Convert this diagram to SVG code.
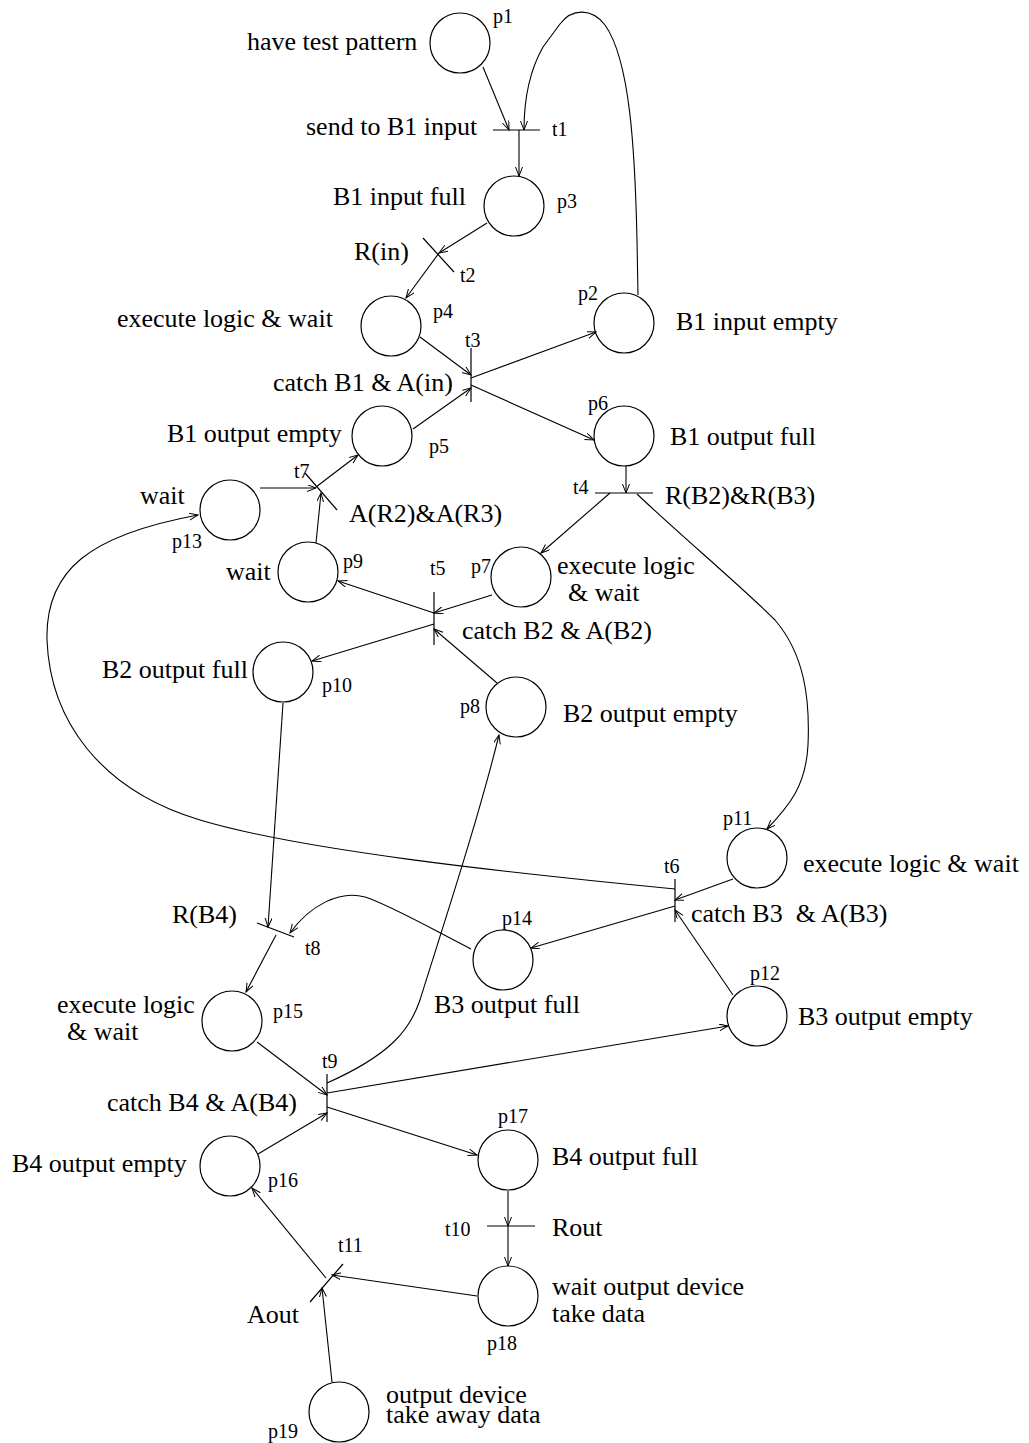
<svg xmlns="http://www.w3.org/2000/svg" width="1029" height="1443" viewBox="0 0 1029 1443">
<defs>
<style>
.pl{fill:none;stroke:#000;stroke-width:1.2}
.tr{fill:none;stroke:#000;stroke-width:1.2}
.e{fill:none;stroke:#000;stroke-width:1.1;marker-end:url(#ah)}
.L{font-family:"Liberation Serif","Times New Roman",serif;font-size:26px;fill:#000;white-space:pre}
.s{font-family:"Liberation Serif","Times New Roman",serif;font-size:20px;fill:#000}
</style>
<marker id="ah" markerUnits="userSpaceOnUse" markerWidth="12" markerHeight="10" refX="9" refY="3.5" orient="auto">
<path d="M0,0 L9,3.5 L0,7" fill="none" stroke="#000" stroke-width="1"/>
</marker>
</defs>
<rect width="1029" height="1443" fill="#fff"/>

<g id="connectors">
<line class="e" x1="483" y1="67" x2="509" y2="130"/>
<path class="e" d="M638 295 L637 240 C635 150 630 60 605 25 C592 8 572 8 560 24 L543 47 C530 70 524 100 524 130"/>
<line class="e" x1="519" y1="130" x2="519" y2="176"/>
<line class="e" x1="487" y1="223" x2="439" y2="253"/>
<line class="e" x1="439" y1="253" x2="406" y2="298"/>
<line class="e" x1="420" y1="337" x2="471" y2="375"/>
<line class="e" x1="471" y1="378" x2="596" y2="332"/>
<line class="e" x1="471" y1="385" x2="594" y2="440"/>
<line class="e" x1="413" y1="429" x2="471" y2="388"/>
<line class="e" x1="626" y1="466" x2="626" y2="493"/>
<line class="e" x1="610" y1="493" x2="541" y2="553"/>
<path class="e" d="M637 494 C680 535 740 585 775 620 C805 655 810 700 808 745 C806 785 790 805 767 829"/>
<line class="e" x1="492" y1="595" x2="434" y2="613"/>
<line class="e" x1="434" y1="613" x2="338" y2="581"/>
<line class="e" x1="434" y1="624" x2="312" y2="661"/>
<line class="e" x1="497" y1="683" x2="434" y2="629"/>
<line class="e" x1="260" y1="488" x2="316" y2="488"/>
<line class="e" x1="316" y1="543" x2="321" y2="493"/>
<line class="e" x1="316" y1="487" x2="358" y2="455"/>
<path class="e" d="M675 889 C500 872 300 850 200 820 C100 790 50 720 47 640 C45 570 90 535 198 515"/>
<line class="e" x1="283" y1="703" x2="268" y2="927"/>
<path class="e" d="M471 949 C430 928 390 905 365 897 C340 890 310 905 290 933"/>
<line class="e" x1="276" y1="935" x2="246" y2="992"/>
<line class="e" x1="733" y1="879" x2="675" y2="900"/>
<line class="e" x1="675" y1="906" x2="531" y2="948"/>
<line class="e" x1="733" y1="995" x2="675" y2="910"/>
<line class="e" x1="257" y1="1042" x2="327" y2="1095"/>
<path class="e" d="M327 1083 C390 1055 410 1030 420 1000 C445 920 478 820 499 735"/>
<line class="e" x1="327" y1="1093" x2="728" y2="1026"/>
<line class="e" x1="327" y1="1107" x2="477" y2="1155"/>
<line class="e" x1="258" y1="1154" x2="327" y2="1113"/>
<line class="e" x1="508" y1="1191" x2="508" y2="1226"/>
<line class="e" x1="508" y1="1226" x2="508" y2="1266"/>
<line class="e" x1="477" y1="1296" x2="332" y2="1275"/>
<line class="e" x1="326" y1="1278" x2="252" y2="1188"/>
<line class="e" x1="332" y1="1382" x2="322" y2="1288"/>
</g>

<g id="p1"><circle class="pl" cx="460" cy="43" r="30"/><text class="L" x="247" y="50">have test pattern</text><text class="s" x="493" y="23">p1</text></g>
<g id="p2"><circle class="pl" cx="624" cy="323" r="30"/><text class="s" x="578" y="300">p2</text><text class="L" x="676" y="330">B1 input empty</text></g>
<g id="p3"><circle class="pl" cx="514" cy="206" r="30"/><text class="L" x="333" y="205">B1 input full</text><text class="s" x="557" y="208">p3</text></g>
<g id="p4"><circle class="pl" cx="391" cy="326" r="30"/><text class="L" x="117" y="327">execute logic &amp; wait</text><text class="s" x="433" y="318">p4</text></g>
<g id="p5"><circle class="pl" cx="382" cy="436" r="30"/><text class="L" x="167" y="442">B1 output empty</text><text class="s" x="429" y="453">p5</text></g>
<g id="p6"><circle class="pl" cx="624" cy="436" r="30"/><text class="s" x="588" y="410">p6</text><text class="L" x="670" y="445">B1 output full</text></g>
<g id="p7"><circle class="pl" cx="521" cy="577" r="30"/><text class="s" x="471" y="573">p7</text><text class="L" x="557" y="574">execute logic</text><text class="L" x="568" y="601">&amp; wait</text></g>
<g id="p8"><circle class="pl" cx="516" cy="707" r="30"/><text class="s" x="460" y="713">p8</text><text class="L" x="563" y="722">B2 output empty</text></g>
<g id="p9"><circle class="pl" cx="308" cy="572" r="30"/><text class="L" x="226" y="580">wait</text><text class="s" x="343" y="568">p9</text></g>
<g id="p10"><circle class="pl" cx="283" cy="672" r="30"/><text class="L" x="102" y="678">B2 output full</text><text class="s" x="322" y="692">p10</text></g>
<g id="p11"><circle class="pl" cx="757" cy="858" r="30"/><text class="s" x="723" y="825">p11</text><text class="L" x="803" y="872">execute logic &amp; wait</text></g>
<g id="p12"><circle class="pl" cx="757" cy="1016" r="30"/><text class="s" x="750" y="980">p12</text><text class="L" x="798" y="1025">B3 output empty</text></g>
<g id="p13"><circle class="pl" cx="230" cy="510" r="30"/><text class="L" x="140" y="504">wait</text><text class="s" x="172" y="548">p13</text></g>
<g id="p14"><circle class="pl" cx="503" cy="960" r="30"/><text class="s" x="502" y="925">p14</text><text class="L" x="434" y="1013">B3 output full</text></g>
<g id="p15"><circle class="pl" cx="232" cy="1021" r="30"/><text class="L" x="57" y="1013">execute logic</text><text class="L" x="67" y="1040">&amp; wait</text><text class="s" x="273" y="1018">p15</text></g>
<g id="p16"><circle class="pl" cx="230" cy="1166" r="30"/><text class="L" x="12" y="1172">B4 output empty</text><text class="s" x="268" y="1187">p16</text></g>
<g id="p17"><circle class="pl" cx="508" cy="1160" r="30"/><text class="s" x="498" y="1123">p17</text><text class="L" x="552" y="1165">B4 output full</text></g>
<g id="p18"><circle class="pl" cx="508" cy="1296" r="30"/><text class="L" x="552" y="1295">wait output device</text><text class="L" x="552" y="1322">take data</text><text class="s" x="487" y="1350">p18</text></g>
<g id="p19"><circle class="pl" cx="339" cy="1412" r="30"/><text class="L" x="386" y="1403">output device</text><text class="L" x="386" y="1423">take away data</text><text class="s" x="268" y="1438">p19</text></g>

<g id="t1"><line class="tr" x1="493" y1="130" x2="540" y2="130"/><text class="L" x="306" y="135">send to B1 input</text><text class="s" x="552" y="136">t1</text></g>
<g id="t2"><line class="tr" x1="423" y1="238" x2="454" y2="272"/><text class="L" x="354" y="260">R(in)</text><text class="s" x="460" y="282">t2</text></g>
<g id="t3"><line class="tr" x1="471" y1="348" x2="471" y2="402"/><text class="s" x="465" y="347">t3</text><text class="L" x="273" y="391">catch B1 &amp; A(in)</text></g>
<g id="t4"><line class="tr" x1="595" y1="493" x2="653" y2="493"/><text class="s" x="573" y="494">t4</text><text class="L" x="665" y="504">R(B2)&amp;R(B3)</text></g>
<g id="t5"><line class="tr" x1="434" y1="592" x2="434" y2="645"/><text class="s" x="430" y="575">t5</text><text class="L" x="462" y="639">catch B2 &amp; A(B2)</text></g>
<g id="t6"><line class="tr" x1="675" y1="879" x2="675" y2="922"/><text class="s" x="664" y="873">t6</text><text class="L" x="691" y="922">catch B3  &amp; A(B3)</text></g>
<g id="t7"><line class="tr" x1="305" y1="473" x2="337" y2="510"/><text class="s" x="294" y="478">t7</text><text class="L" x="349" y="522">A(R2)&amp;A(R3)</text></g>
<g id="t8"><line class="tr" x1="257" y1="923" x2="294" y2="937"/><text class="L" x="172" y="923">R(B4)</text><text class="s" x="305" y="955">t8</text></g>
<g id="t9"><line class="tr" x1="327" y1="1074" x2="327" y2="1122"/><text class="s" x="322" y="1068">t9</text><text class="L" x="107" y="1111">catch B4 &amp; A(B4)</text></g>
<g id="t10"><line class="tr" x1="487" y1="1226" x2="535" y2="1226"/><text class="s" x="445" y="1236">t10</text><text class="L" x="552" y="1236">Rout</text></g>
<g id="t11"><line class="tr" x1="310" y1="1302" x2="343" y2="1264"/><text class="s" x="338" y="1252">t11</text><text class="L" x="247" y="1323">Aout</text></g>
</svg>
